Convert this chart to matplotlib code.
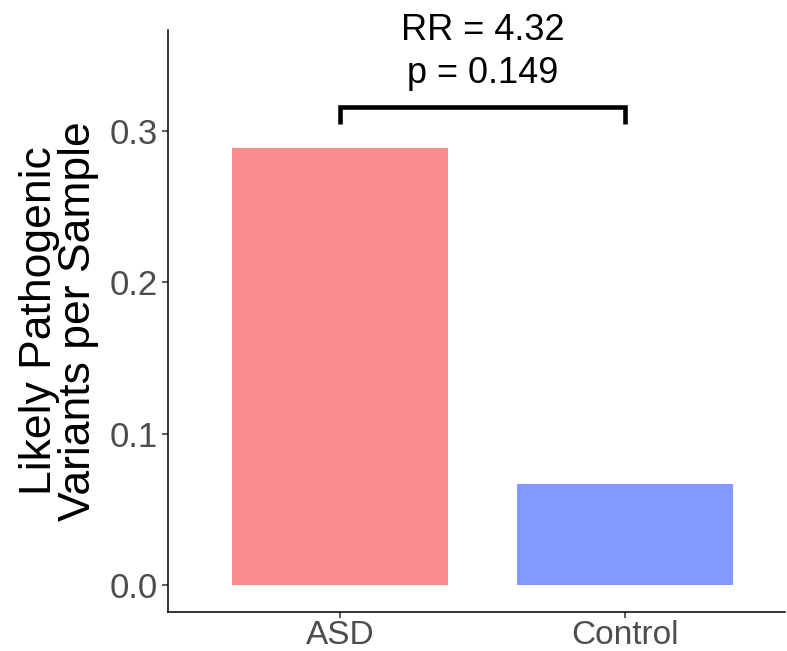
import matplotlib
matplotlib.use("Agg")
import matplotlib.pyplot as plt

groups = ["ASD", "Control"]
rates = [0.2888, 0.0668]
bar_colors = ["#F98D8D", "#8499FF"]
yticks = [0.0, 0.1, 0.2, 0.3]
rr_text = "RR = 4.32"
p_text = "p = 0.149"

plt.rcParams["font.family"] = ["Liberation Sans", "DejaVu Sans"]

fig = plt.figure(figsize=(7.87, 6.51), dpi=100)
ax = fig.add_axes([0.2135, 0.0599, 0.784, 0.894])

x = list(range(len(groups)))
ax.bar(x, rates, width=0.76, color=bar_colors)

# significance bracket
y_bar = 0.316
y_tip = 0.305
ax.plot([0, 0, 1, 1], [y_tip, y_bar, y_bar, y_tip], color="black",
        linewidth=3.3, solid_capstyle="butt", solid_joinstyle="miter", clip_on=False)
ax.text(0.5, 0.3665, rr_text, ha="center", va="center", fontsize=26, clip_on=False)
ax.text(0.5, 0.338, p_text, ha="center", va="center", fontsize=26, clip_on=False)

ax.set_xlim(-0.6035, 1.561)
ax.set_ylim(-0.0178, 0.3668)
ax.set_xticks(x)
ax.set_xticklabels(groups)
ax.set_yticks(yticks)
ax.set_yticklabels([f"{v:.1f}" for v in yticks])

for side in ["top", "right"]:
    ax.spines[side].set_visible(False)
for side in ["left", "bottom"]:
    ax.spines[side].set_linewidth(1.1)
    ax.spines[side].set_color("black")

ax.tick_params(axis="both", colors="#333333", labelcolor="#4D4D4D",
               labelsize=25, length=4, width=1.1, pad=3)
ax.tick_params(axis="x", labelsize=24, pad=2)
ax.set_ylabel("Likely Pathogenic\nVariants per Sample", fontsize=32,
              linespacing=0.95, labelpad=8)

fig.savefig("out.png", dpi=100)
